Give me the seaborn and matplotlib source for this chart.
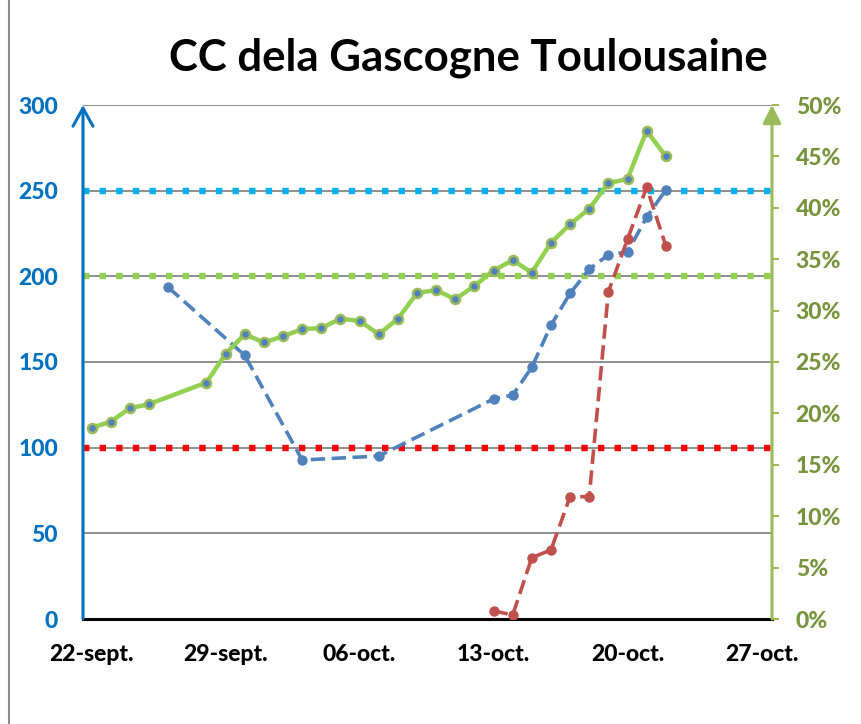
import numpy as np
import pandas as pd
import matplotlib
matplotlib.use('Agg')
import matplotlib.pyplot as plt
from matplotlib.lines import Line2D
import seaborn as sns

# --- Data ---
START = '2020-09-22'

green_dates = ['2020-09-22', '2020-09-23', '2020-09-24', '2020-09-25', '2020-09-28',
               '2020-09-29', '2020-09-30', '2020-10-01', '2020-10-02', '2020-10-03',
               '2020-10-04', '2020-10-05', '2020-10-06', '2020-10-07', '2020-10-08',
               '2020-10-09', '2020-10-10', '2020-10-11', '2020-10-12', '2020-10-13',
               '2020-10-14', '2020-10-15', '2020-10-16', '2020-10-17', '2020-10-18',
               '2020-10-19', '2020-10-20', '2020-10-21', '2020-10-22']
green_pct = [18.6, 19.2, 20.5, 20.9, 23.0, 25.8, 27.7, 26.9, 27.5, 28.2,
             28.3, 29.2, 29.0, 27.7, 29.2, 31.7, 32.0, 31.1, 32.4, 33.9,
             34.9, 33.7, 36.6, 38.4, 39.9, 42.4, 42.8, 47.5, 45.0]

blue_dates = ['2020-09-26', '2020-09-30', '2020-10-03', '2020-10-07', '2020-10-13',
              '2020-10-14', '2020-10-15', '2020-10-16', '2020-10-17', '2020-10-18',
              '2020-10-19', '2020-10-20', '2020-10-21', '2020-10-22']
blue_vals = [193.6, 153.9, 92.8, 95.1, 128.4, 130.7, 146.9, 171.4, 190.1, 204.1,
             212.6, 214.2, 234.5, 250.4]

red_dates = ['2020-10-13', '2020-10-14', '2020-10-15', '2020-10-16', '2020-10-17',
             '2020-10-18', '2020-10-19', '2020-10-20', '2020-10-21', '2020-10-22']
red_vals = [4.8, 2.3, 35.8, 40.3, 71.4, 71.4, 191.0, 221.6, 252.0, 217.9]

threshold_vals = [250, 200, 100]
threshold_colors = ['#00B0F0', '#92D050', '#FF0000']

left_ticks = [0, 50, 100, 150, 200, 250, 300]
right_ticks = [0, 5, 10, 15, 20, 25, 30, 35, 40, 45, 50]
x_tick_dates = ['2020-09-22', '2020-09-29', '2020-10-06', '2020-10-13', '2020-10-20', '2020-10-27']
x_tick_labels = ['22-sept.', '29-sept.', '06-oct.', '13-oct.', '20-oct.', '27-oct.']


def to_days(dates):
    return (pd.to_datetime(dates) - pd.Timestamp(START)).days.to_numpy()


sns.set_style('white')
plt.rcParams['font.family'] = ['Lato', 'DejaVu Sans']
plt.rcParams['font.weight'] = 'bold'

fig = plt.figure(figsize=(8.62, 7.24), dpi=100)
ax = fig.add_axes([83 / 862, 105 / 724, 689 / 862, 514 / 724])
ax2 = ax.twinx()

# gridlines
ax.set_axisbelow(True)
ax.yaxis.grid(True, color='#868686', lw=1.3)
ax.xaxis.grid(False)

# threshold lines (square dots)
for val, col in zip(threshold_vals, threshold_colors):
    ax.axhline(val, color=col, lw=4.6, linestyle=(0, (1, 1.6)), zorder=2)

# dashed series on left axis
sns.lineplot(x=to_days(blue_dates), y=blue_vals, ax=ax, color='#4F81BD', lw=2.6,
             linestyle=(0, (4, 1.8)), marker='o', markersize=7.5,
             markeredgecolor='#4F81BD', markeredgewidth=0, zorder=3)
sns.lineplot(x=to_days(red_dates), y=red_vals, ax=ax, color='#C0504D', lw=2.6,
             linestyle=(0, (4, 1.8)), marker='o', markersize=7.5,
             markeredgecolor='#C0504D', markeredgewidth=0, zorder=3)

# green series on right axis
sns.lineplot(x=to_days(green_dates), y=np.array(green_pct) / 100, ax=ax2,
             color='#92D050', lw=3.2, marker='o', markersize=6.5,
             markerfacecolor='#4F81BD', markeredgecolor='#9BBB59',
             markeredgewidth=1.8, zorder=3)

# axes limits / ticks
ax.set_xlim(-0.45, 35.55)
ax.set_ylim(0, 300)
ax2.set_ylim(0, 0.5)
tick_font = dict(fontweight=900, fontsize=16.5)
ax.set_xticks(to_days(x_tick_dates))
ax.set_xticklabels(x_tick_labels, **tick_font)
ax.set_yticks(left_ticks)
ax.set_yticklabels([str(t) for t in left_ticks], **tick_font)
ax2.set_yticks([t / 100 for t in right_ticks])
ax2.set_yticklabels([f'{t}%' for t in right_ticks], **tick_font)

ax.tick_params(axis='x', length=0, pad=18, labelcolor='black')
ax.tick_params(axis='y', length=0, pad=18, labelcolor='#0070C0')
ax2.tick_params(axis='y', length=5, width=1.5, color='#9BBB59', pad=12,
                labelcolor='#77933C')

for s in ['top', 'left', 'right']:
    ax.spines[s].set_visible(False)
ax.spines['bottom'].set_color('black')
ax.spines['bottom'].set_linewidth(2.2)
for s in ax2.spines.values():
    s.set_visible(False)

# axis arrows
ax.annotate('', xy=(0, 1.0), xytext=(0, 0), xycoords='axes fraction',
            arrowprops=dict(arrowstyle='->,head_length=0.65,head_width=0.36',
                            mutation_scale=20, color='#0070C0', lw=2.2,
                            shrinkA=0, shrinkB=0), zorder=5)
ax2.annotate('', xy=(1, 1.0), xytext=(1, 0), xycoords='axes fraction',
             arrowprops=dict(arrowstyle='-|>,head_length=0.55,head_width=0.28',
                             mutation_scale=20, color='#9BBB59', lw=2.2,
                             shrinkA=0, shrinkB=0), zorder=5)

fig.text(468 / 862, 1 - 58 / 724, 'CC dela Gascogne Toulousaine', ha='center',
         va='center', fontsize=31.5, fontweight='bold', color='black')

# chart border on the left
fig.add_artist(Line2D([9 / 862, 9 / 862], [0, 1], color='#8C8C8C', lw=1.5))

fig.savefig('out.png', dpi=100)
